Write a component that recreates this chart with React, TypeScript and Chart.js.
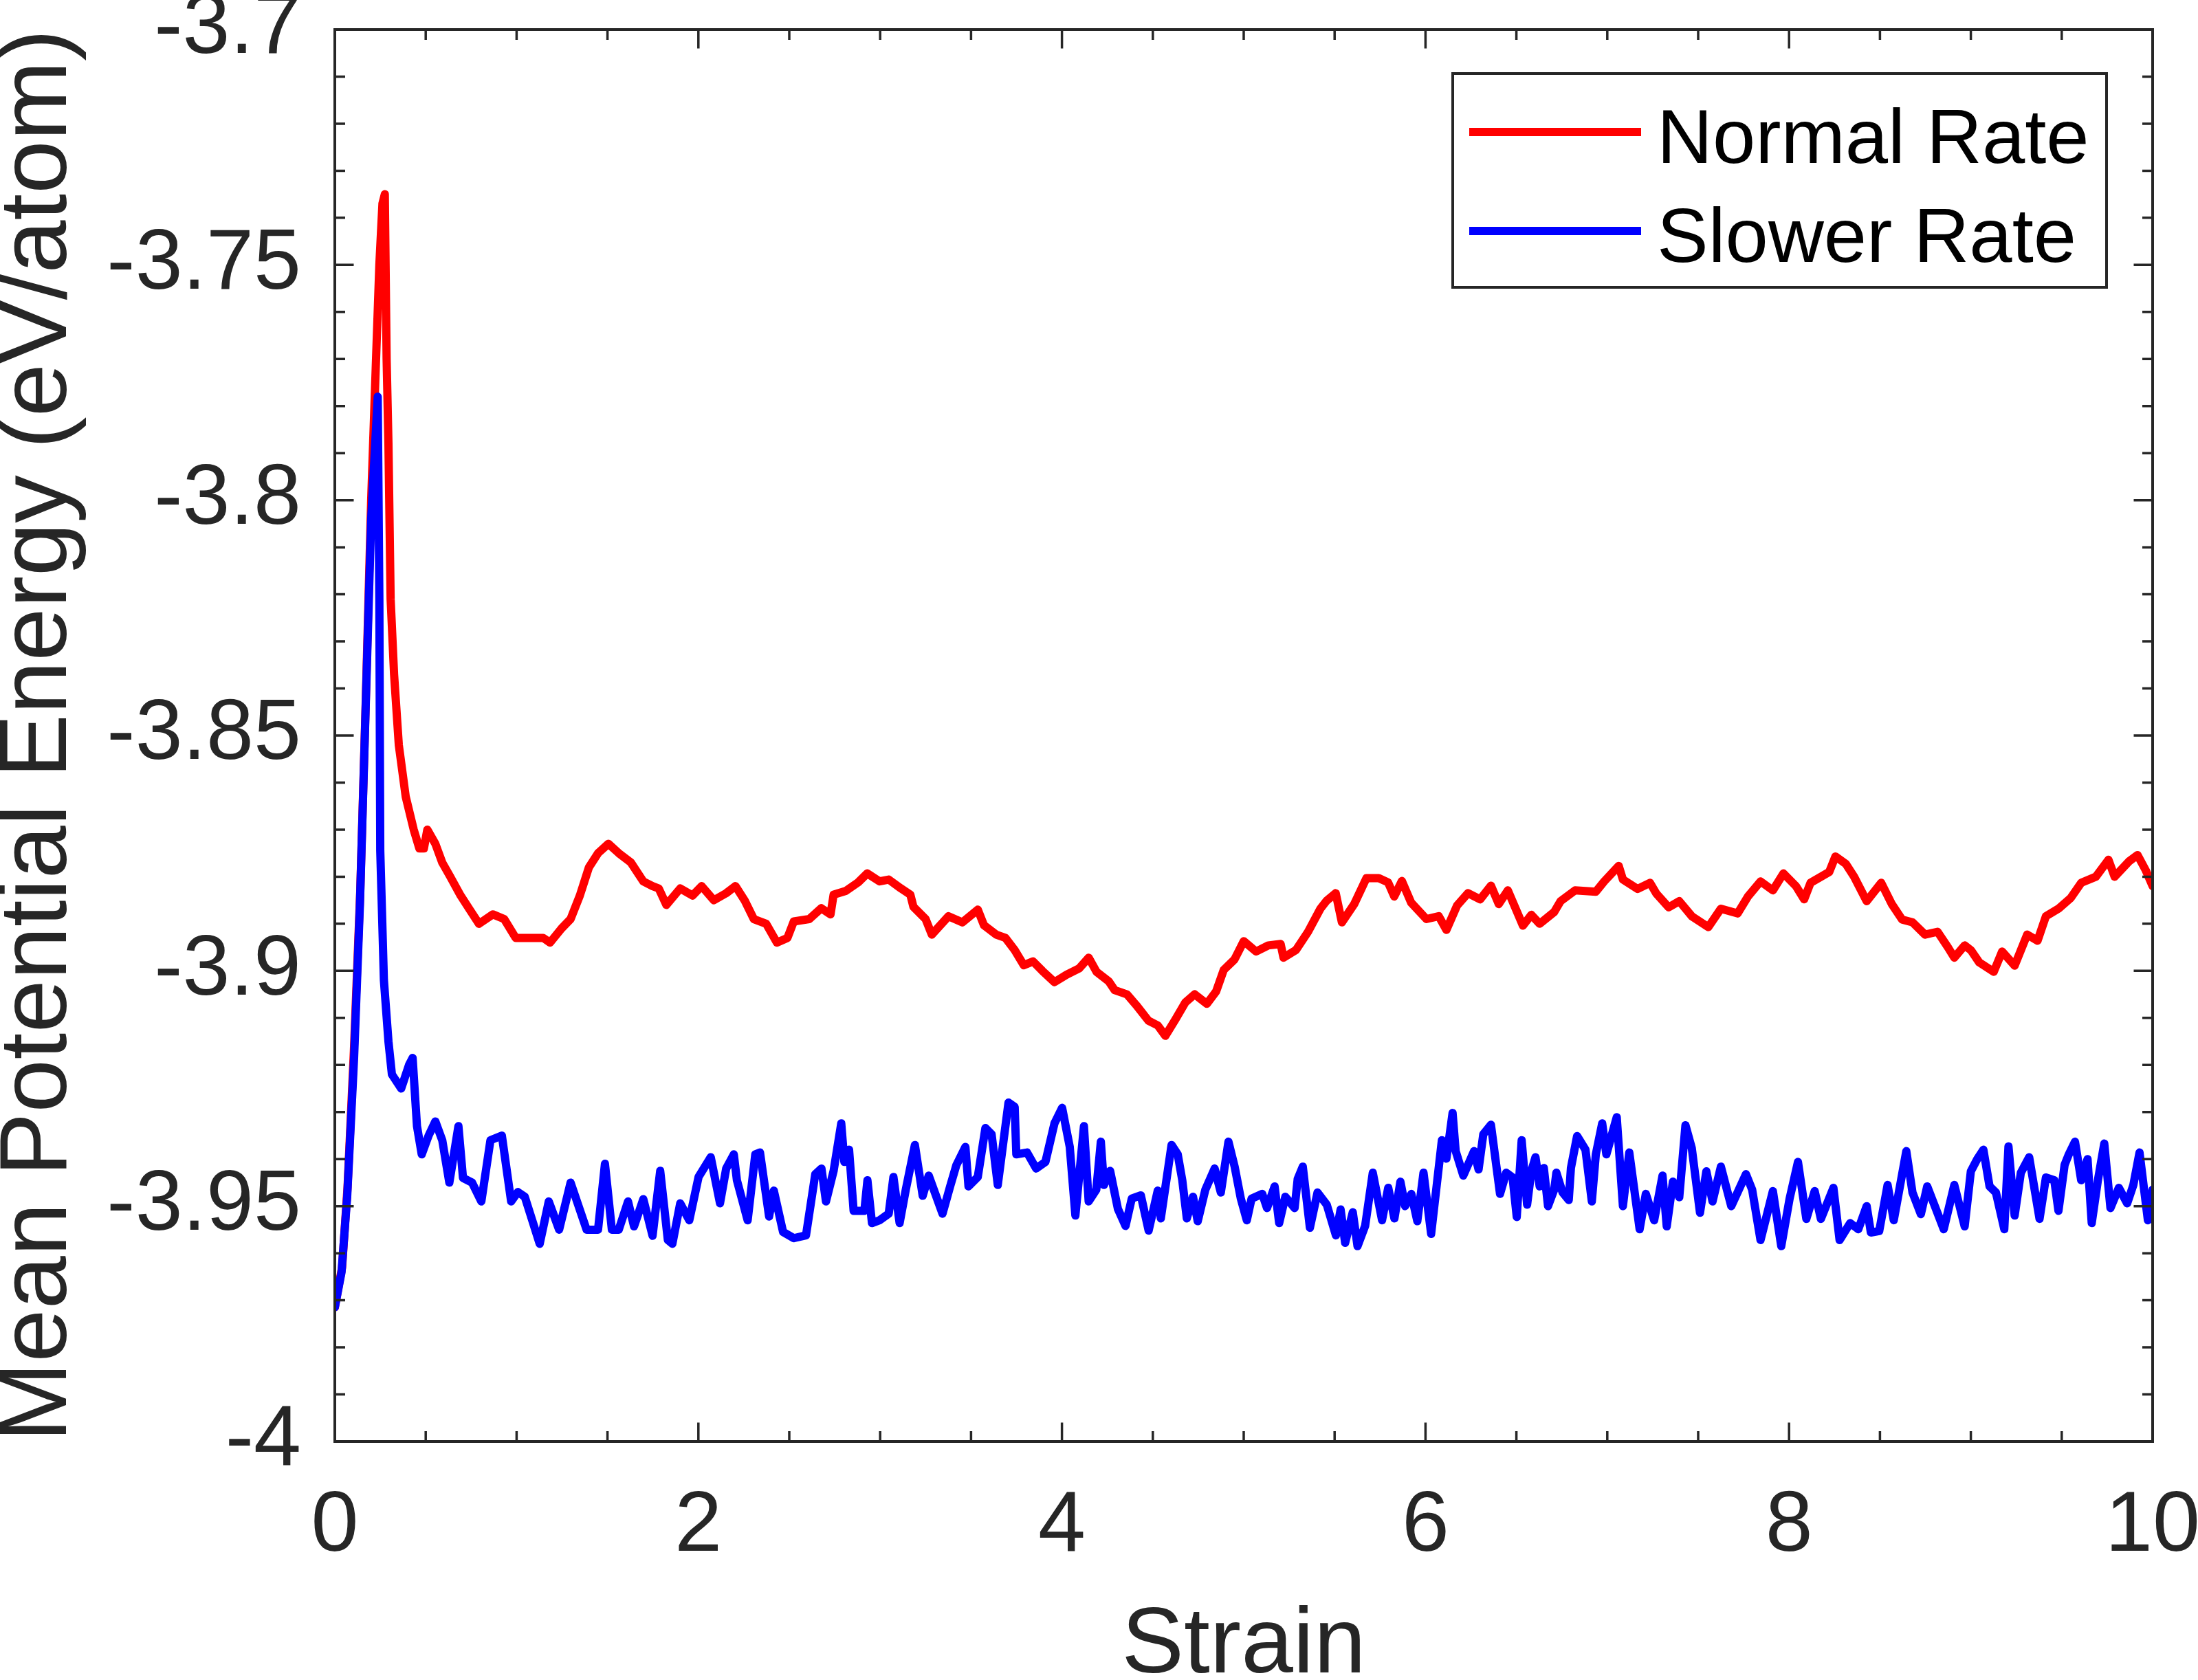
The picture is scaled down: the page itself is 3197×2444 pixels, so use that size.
import { useEffect, useRef } from "react";
import { Chart, registerables } from "chart.js";

Chart.register(...registerables);

// Normal Rate (red)
const normalStrain = [
  0, 0.04, 0.07, 0.105, 0.14, 0.17, 0.2, 0.225, 0.245, 0.262, 0.275, 0.285, 0.295, 0.307, 0.326, 0.352,
  0.39, 0.434, 0.465, 0.49, 0.509, 0.553, 0.591, 0.635, 0.692, 0.742, 0.793, 0.869, 0.932, 0.995, 1.07,
  1.146, 1.184, 1.247, 1.297, 1.348, 1.398, 1.448, 1.505, 1.562, 1.629, 1.697, 1.748, 1.782, 1.824, 1.9,
  1.968, 2.018, 2.085, 2.153, 2.204, 2.254, 2.305, 2.373, 2.432, 2.49, 2.525, 2.61, 2.676, 2.727, 2.744,
  2.812, 2.879, 2.929, 2.997, 3.047, 3.115, 3.166, 3.183, 3.25, 3.284, 3.376, 3.452, 3.537, 3.571, 3.638,
  3.689, 3.74, 3.79, 3.841, 3.892, 3.959, 4.026, 4.094, 4.147, 4.19, 4.257, 4.29, 4.358, 4.409, 4.476,
  4.527, 4.569, 4.62, 4.679, 4.73, 4.797, 4.848, 4.89, 4.949, 5.0, 5.068, 5.135, 5.203, 5.219, 5.287,
  5.354, 5.422, 5.456, 5.506, 5.54, 5.608, 5.675, 5.743, 5.794, 5.828, 5.87, 5.921, 6.005, 6.073, 6.115,
  6.174, 6.234, 6.301, 6.36, 6.403, 6.453, 6.536, 6.582, 6.628, 6.708, 6.743, 6.823, 6.937, 6.983, 7.063,
  7.086, 7.167, 7.235, 7.27, 7.338, 7.396, 7.465, 7.556, 7.625, 7.717, 7.774, 7.843, 7.911, 7.969, 8.038,
  8.083, 8.118, 8.221, 8.255, 8.313, 8.358, 8.427, 8.507, 8.565, 8.622, 8.679, 8.748, 8.817, 8.874, 8.909,
  8.966, 9.0, 9.046, 9.126, 9.172, 9.241, 9.31, 9.367, 9.413, 9.482, 9.55, 9.607, 9.688, 9.757, 9.791,
  9.871, 9.917, 9.963, 10.0,
];
const normalEnergy = [
  -3.9715, -3.963, -3.946, -3.917, -3.883, -3.843, -3.8, -3.772, -3.75, -3.737, -3.735, -3.77, -3.788,
  -3.821, -3.837, -3.852, -3.863, -3.87, -3.874, -3.874, -3.87, -3.873, -3.877, -3.88, -3.884, -3.887,
  -3.89, -3.888, -3.889, -3.893, -3.893, -3.893, -3.894, -3.891, -3.889, -3.884, -3.878, -3.875, -3.873,
  -3.875, -3.877, -3.881, -3.882, -3.8825, -3.886, -3.8825, -3.884, -3.882, -3.885, -3.8835, -3.882,
  -3.885, -3.889, -3.89, -3.894, -3.893, -3.8895, -3.889, -3.8867, -3.888, -3.8838, -3.883, -3.8812,
  -3.8793, -3.881, -3.8806, -3.8825, -3.8838, -3.8864, -3.889, -3.8923, -3.8884, -3.8897, -3.887,
  -3.8903, -3.8923, -3.893, -3.8956, -3.8988, -3.898, -3.9, -3.9024, -3.9008, -3.8995, -3.8972, -3.9002,
  -3.9022, -3.9041, -3.905, -3.9073, -3.9106, -3.9116, -3.9138, -3.9106, -3.9067, -3.905, -3.907,
  -3.9044, -3.8998, -3.8976, -3.8937, -3.8959, -3.8946, -3.8943, -3.8972, -3.8956, -3.8917, -3.8868,
  -3.8851, -3.8835, -3.8897, -3.8858, -3.8803, -3.8803, -3.8812, -3.8842, -3.8809, -3.8855, -3.889,
  -3.8884, -3.8913, -3.8861, -3.8835, -3.8848, -3.8819, -3.8858, -3.8829, -3.8904, -3.8881, -3.89,
  -3.8875, -3.8852, -3.8829, -3.8832, -3.881, -3.8777, -3.8806, -3.8826, -3.8813, -3.8836, -3.8865,
  -3.8852, -3.8884, -3.8907, -3.8868, -3.8878, -3.8842, -3.881, -3.8829, -3.8793, -3.882, -3.8848,
  -3.8813, -3.879, -3.8757, -3.8773, -3.88, -3.8852, -3.8813, -3.8858, -3.8891, -3.8897, -3.8923,
  -3.8917, -3.895, -3.8972, -3.8946, -3.8956, -3.8982, -3.9002, -3.8959, -3.8989, -3.8923, -3.8936,
  -3.8884, -3.8868, -3.8845, -3.8813, -3.88, -3.8764, -3.88, -3.8767, -3.8754, -3.8787, -3.882,
];

// Slower Rate (blue)
const slowerStrain = [
  0, 0.037, 0.068, 0.106, 0.138, 0.169, 0.2, 0.236, 0.245, 0.25, 0.27, 0.295, 0.314, 0.365, 0.408, 0.428,
  0.452, 0.478, 0.516, 0.553, 0.591, 0.63, 0.68, 0.705, 0.755, 0.806, 0.856, 0.919, 0.97, 1.007, 1.045,
  1.127, 1.177, 1.234, 1.297, 1.385, 1.448, 1.486, 1.524, 1.562, 1.613, 1.646, 1.697, 1.748, 1.79, 1.832,
  1.857, 1.9, 1.95, 2.001, 2.068, 2.119, 2.153, 2.195, 2.212, 2.271, 2.313, 2.339, 2.389, 2.415, 2.466,
  2.525, 2.592, 2.643, 2.677, 2.702, 2.744, 2.786, 2.803, 2.829, 2.854, 2.913, 2.93, 2.955, 2.997, 3.047,
  3.073, 3.107, 3.141, 3.191, 3.234, 3.267, 3.343, 3.385, 3.419, 3.469, 3.486, 3.537, 3.579, 3.613, 3.647,
  3.706, 3.74, 3.749, 3.808, 3.858, 3.909, 3.959, 4.001, 4.043, 4.074, 4.121, 4.147, 4.189, 4.214, 4.231,
  4.265, 4.308, 4.35, 4.384, 4.434, 4.477, 4.527, 4.544, 4.603, 4.637, 4.662, 4.687, 4.721, 4.747, 4.789,
  4.84, 4.874, 4.916, 4.95, 4.984, 5.017, 5.043, 5.102, 5.128, 5.17, 5.195, 5.229, 5.28, 5.297, 5.325,
  5.364, 5.406, 5.457, 5.507, 5.533, 5.558, 5.6, 5.626, 5.668, 5.71, 5.761, 5.795, 5.829, 5.862, 5.888,
  5.922, 5.955, 5.989, 6.031, 6.09, 6.115, 6.149, 6.166, 6.208, 6.267, 6.292, 6.318, 6.36, 6.41, 6.444,
  6.479, 6.502, 6.529, 6.559, 6.582, 6.605, 6.628, 6.651, 6.674, 6.708, 6.72, 6.754, 6.788, 6.8, 6.834,
  6.88, 6.915, 6.937, 6.972, 6.995, 7.052, 7.086, 7.121, 7.178, 7.212, 7.258, 7.304, 7.327, 7.361, 7.396,
  7.43, 7.465, 7.51, 7.545, 7.579, 7.625, 7.682, 7.763, 7.797, 7.843, 7.911, 7.957, 8.003, 8.049, 8.095,
  8.141, 8.175, 8.244, 8.278, 8.336, 8.381, 8.427, 8.45, 8.496, 8.542, 8.576, 8.645, 8.679, 8.725, 8.76,
  8.851, 8.909, 8.966, 9.0, 9.035, 9.069, 9.103, 9.138, 9.184, 9.207, 9.241, 9.275, 9.321, 9.378, 9.413,
  9.459, 9.482, 9.516, 9.539, 9.573, 9.607, 9.642, 9.665, 9.699, 9.734, 9.768, 9.814, 9.86, 9.894, 9.928,
  9.974, 10.0,
];
const slowerEnergy = [
  -3.9715, -3.964, -3.948, -3.9185, -3.886, -3.845, -3.804, -3.778, -3.821, -3.8745, -3.902, -3.915,
  -3.922, -3.925, -3.92, -3.9185, -3.933, -3.939, -3.935, -3.932, -3.936, -3.945, -3.933, -3.944, -3.945,
  -3.949, -3.936, -3.935, -3.949, -3.947, -3.948, -3.958, -3.949, -3.955, -3.945, -3.955, -3.955, -3.941,
  -3.955, -3.955, -3.949, -3.9543, -3.9485, -3.9563, -3.9425, -3.9572, -3.958, -3.9494, -3.953, -3.9438,
  -3.9396, -3.9494, -3.942, -3.939, -3.9445, -3.953, -3.939, -3.9386, -3.9522, -3.9467, -3.9555, -3.9568,
  -3.9562, -3.9432, -3.942, -3.949, -3.9425, -3.9324, -3.9406, -3.938, -3.951, -3.951, -3.9445, -3.9536,
  -3.953, -3.9516, -3.9438, -3.9536, -3.9465, -3.937, -3.9478, -3.9435, -3.9516, -3.9458, -3.9413,
  -3.9374, -3.9458, -3.9438, -3.9334, -3.9347, -3.9455, -3.928, -3.9289, -3.939, -3.9386, -3.942, -3.9406,
  -3.9324, -3.9291, -3.9374, -3.952, -3.933, -3.949, -3.9465, -3.9363, -3.9455, -3.9425, -3.9506, -3.9542,
  -3.9484, -3.9477, -3.9552, -3.9467, -3.9526, -3.937, -3.939, -3.9445, -3.9526, -3.948, -3.9532, -3.9465,
  -3.942, -3.9471, -3.9363, -3.9416, -3.9484, -3.953, -3.9484, -3.9474, -3.9504, -3.9458, -3.9536, -3.948,
  -3.9504, -3.9442, -3.9416, -3.9546, -3.9471, -3.9497, -3.9562, -3.9507, -3.9578, -3.9513, -3.9585,
  -3.9542, -3.9429, -3.953, -3.9461, -3.9526, -3.9448, -3.95, -3.9474, -3.9532, -3.9429, -3.9559, -3.936,
  -3.9399, -3.9302, -3.9383, -3.9435, -3.9383, -3.9422, -3.9347, -3.9327, -3.9474, -3.9429, -3.9439,
  -3.9523, -3.936, -3.9497, -3.9426, -3.9396, -3.9458, -3.9419, -3.95, -3.9465, -3.9429, -3.9471, -3.9487,
  -3.9419, -3.9351, -3.938, -3.949, -3.939, -3.9324, -3.939, -3.9311, -3.95, -3.9386, -3.9549, -3.9474,
  -3.953, -3.9435, -3.9543, -3.9448, -3.9481, -3.9328, -3.9377, -3.9514, -3.9426, -3.949, -3.9416, -3.95,
  -3.9432, -3.9465, -3.9572, -3.9468, -3.9585, -3.9484, -3.9406, -3.9527, -3.9468, -3.9527, -3.9461,
  -3.9572, -3.9536, -3.9549, -3.95, -3.9556, -3.9553, -3.9455, -3.953, -3.9383, -3.9471, -3.9517, -3.9458,
  -3.9549, -3.9455, -3.9543, -3.9426, -3.94, -3.938, -3.9458, -3.9471, -3.9549, -3.9373, -3.952, -3.9429,
  -3.9396, -3.9527, -3.9439, -3.9445, -3.951, -3.9412, -3.939, -3.9363, -3.9445, -3.94, -3.9536, -3.9445,
  -3.9367, -3.9504, -3.9461, -3.9494, -3.9455, -3.9386, -3.953, -3.9465,
];

const xTickValues = [0, 2, 4, 6, 8, 10];
const yTickValues = [-4, -3.95, -3.9, -3.85, -3.8, -3.75, -3.7];
const xMinorStep = 0.5;
const yMinorStep = 0.01;

const AXIS = "#262626";
const FONT = "'Liberation Sans', Arial, Helvetica, sans-serif";
const LINE_W = 12;

function tickValues(min: number, max: number, step: number) {
  const n = Math.round((max - min) / step);
  const out: number[] = [];
  for (let i = 0; i <= n; i++) out.push(min + i * step);
  return out;
}

// MATLAB-style box with inward ticks on all four sides
const boxTicks = {
  id: "boxTicks",
  afterDatasetsDraw(chart: any) {
    const { ctx, chartArea: a, scales } = chart;
    const xs = scales.x;
    const ys = scales.y;
    const isMajor = (v: number, list: number[]) => list.some((m) => Math.abs(m - v) < 1e-6);
    ctx.save();
    ctx.strokeStyle = AXIS;
    ctx.lineWidth = 3.5;
    ctx.beginPath();
    tickValues(xs.min, xs.max, xMinorStep).forEach((v) => {
      const px = xs.getPixelForValue(v);
      const len = isMajor(v, xTickValues) ? 27.5 : 15;
      ctx.moveTo(px, a.bottom);
      ctx.lineTo(px, a.bottom - len);
      ctx.moveTo(px, a.top);
      ctx.lineTo(px, a.top + len);
    });
    tickValues(ys.min, ys.max, yMinorStep).forEach((v) => {
      const py = ys.getPixelForValue(v);
      const len = isMajor(v, yTickValues) ? 27.5 : 15;
      ctx.moveTo(a.left, py);
      ctx.lineTo(a.left + len, py);
      ctx.moveTo(a.right, py);
      ctx.lineTo(a.right - len, py);
    });
    ctx.stroke();
    ctx.lineWidth = 4;
    ctx.strokeRect(a.left, a.top, a.right - a.left, a.bottom - a.top);
    ctx.restore();
  },
};

// legend box in the upper right corner
const boxLegend = {
  id: "boxLegend",
  afterDraw(chart: any) {
    const { ctx, chartArea: a } = chart;
    const right = a.right - 67;
    const left = right - 951;
    const top = a.top + 64;
    const bottom = top + 311;
    ctx.save();
    ctx.fillStyle = "#ffffff";
    ctx.fillRect(left, top, right - left, bottom - top);
    ctx.strokeStyle = AXIS;
    ctx.lineWidth = 4;
    ctx.strokeRect(left, top, right - left, bottom - top);
    ctx.font = `112px ${FONT}`;
    ctx.textBaseline = "alphabetic";
    ctx.textAlign = "left";
    chart.data.datasets.forEach((ds: any, i: number) => {
      const y = top + 85 + i * 144;
      ctx.strokeStyle = ds.borderColor;
      ctx.lineWidth = LINE_W;
      ctx.lineCap = "butt";
      ctx.beginPath();
      ctx.moveTo(left + 24, y);
      ctx.lineTo(left + 274, y);
      ctx.stroke();
      ctx.fillStyle = "#000000";
      ctx.fillText(ds.label, left + 297, y + 45);
    });
    ctx.restore();
  },
};

export default function App() {
  const canvasRef = useRef<HTMLCanvasElement | null>(null);

  useEffect(() => {
    const ctx = canvasRef.current!.getContext("2d")!;
    const chart = new Chart(ctx, {
      type: "line",
      data: {
        datasets: [
          {
            label: "Normal Rate",
            data: normalStrain.map((x, i) => ({ x, y: normalEnergy[i] })),
            borderColor: "#ff0000",
            borderWidth: LINE_W,
            pointRadius: 0,
            tension: 0,
            fill: false,
            borderJoinStyle: "round",
            borderCapStyle: "round",
            order: 1,
          },
          {
            label: "Slower Rate",
            data: slowerStrain.map((x, i) => ({ x, y: slowerEnergy[i] })),
            borderColor: "#0000ff",
            borderWidth: LINE_W,
            pointRadius: 0,
            tension: 0,
            fill: false,
            borderJoinStyle: "round",
            borderCapStyle: "round",
            order: 0,
          },
        ],
      },
      options: {
        responsive: false,
        devicePixelRatio: 1,
        animation: false,
        layout: { padding: { left: 0, top: 43, right: 66, bottom: 0 } },
        plugins: {
          legend: { display: false },
          tooltip: { enabled: false },
        },
        scales: {
          x: {
            type: "linear",
            min: 0,
            max: 10,
            grid: { display: false, drawTicks: false },
            border: { display: false },
            ticks: {
              padding: 63,
              color: AXIS,
              autoSkip: false,
              maxRotation: 0,
              font: { family: FONT, size: 124, lineHeight: 1 },
              callback: (v: any) => String(v),
            },
            title: {
              display: true,
              text: "Strain",
              color: AXIS,
              font: { family: FONT, size: 136, lineHeight: 1 },
              padding: { top: 0, bottom: -19 },
            },
            afterBuildTicks: (s: any) => {
              s.ticks = xTickValues.map((value) => ({ value }));
            },
            afterFit: (s: any) => {
              s.height = 347;
              s.paddingLeft = 0;
              s.paddingRight = 0;
            },
          },
          y: {
            type: "linear",
            min: -4,
            max: -3.7,
            grid: { display: false, drawTicks: false },
            border: { display: false },
            ticks: {
              padding: 49,
              color: AXIS,
              autoSkip: false,
              font: { family: FONT, size: 124, lineHeight: 1 },
              callback: (v: any) => String(v),
            },
            title: {
              display: true,
              text: "Mean Potential Energy (eV/atom)",
              color: AXIS,
              font: { family: FONT, size: 139, lineHeight: 1 },
              padding: { top: -12, bottom: 0 },
            },
            afterBuildTicks: (s: any) => {
              s.ticks = yTickValues.map((value) => ({ value }));
            },
            afterFit: (s: any) => {
              s.width = 487;
              s.paddingTop = 0;
              s.paddingBottom = 0;
            },
          },
        },
      },
      plugins: [boxTicks, boxLegend],
    });

    return () => {
      chart.destroy();
    };
  }, []);

  return (
    <div style={{ position: "absolute", left: 0, top: 0 }}>
      <canvas ref={canvasRef} width={3197} height={2444} style={{ display: "block" }}></canvas>
    </div>
  );
}
